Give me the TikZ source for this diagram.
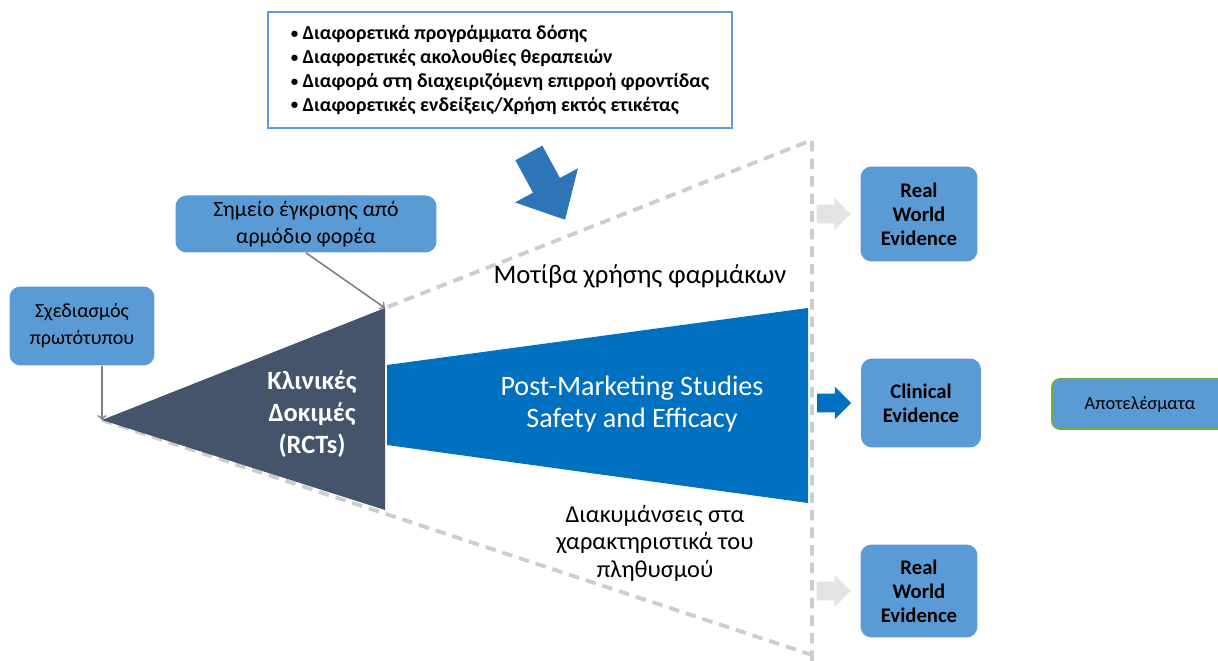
\documentclass[tikz,border=0pt]{standalone}
\usepackage{fontspec}
\setmainfont{Carlito}
\usetikzlibrary{shapes.arrows,positioning}
\definecolor{boxblue}{HTML}{5B9BD5}
\definecolor{pmsblue}{HTML}{0070C0}
\definecolor{slate}{HTML}{44546A}
\definecolor{arrowblue}{HTML}{2E75B6}
\definecolor{dashgray}{HTML}{CDCDCD}
\definecolor{palegray}{HTML}{E4E4E4}
\definecolor{leafgreen}{HTML}{70AD47}
\newcommand{\smallbullet}{\raisebox{0.15ex}{\scalebox{0.75}{\textbullet}}\ }

\begin{document}
\begin{tikzpicture}[x=0.02cm, y=-0.02cm,
		bluebox/.style={fill=boxblue, rounded corners=0.22cm, align=center, inner sep=0pt},
		evidbox/.style={bluebox, font=\bfseries\fontsize{11.8}{13.6}\selectfont},
		blockarrow/.style={single arrow, minimum height=0.68cm, minimum width=0pt, inner xsep=0pt, inner ysep=0.18cm, single arrow head extend=0.14cm},
		pointer/.style={->, gray, line width=0.9pt}]
		\useasboundingbox (0,0) rectangle (1218,661);
		% dashed frame
		\coordinate (tritip) at (102,420);
		\coordinate (tritop) at (385,308);
		\draw[dashgray, line width=2.2pt, dash pattern=on 6pt off 4pt] (tritip) -- (812,655) (812,661) -- (812,140) -- (tritop);
		% trial triangle
		\fill[slate] (tritip) -- (tritop) -- (385,510) -- cycle;
		\node[text=white, align=center, font=\bfseries\fontsize{15}{18.2}\selectfont] (rcttext) at (312,414) {Κλινικές\\Δοκιμές\\(RCTs)};
		% post-marketing wedge
		\fill[pmsblue] (387,365) -- (808,308) -- (808,503) -- (387,445) -- cycle;
		\node[text=white, align=center, font=\fontsize{16}{18.2}\selectfont] (pmstext) at (632,404) {Post-Marketing Studies\\Safety and Efficacy};
		% labels around the wedge
		\node[font=\fontsize{15.2}{17}\selectfont] (patterns) at (640,276) {Μοτίβα χρήσης φαρμάκων};
		\node[align=center, font=\fontsize{13.9}{15.6}\selectfont] (variations) at (655,543) {Διακυμάνσεις στα\\χαρακτηριστικά του\\πληθυσμού};
		% factors box
		\node[draw=boxblue, line width=1.6pt, fill=white, minimum width=9.28cm, minimum height=2.32cm, align=left, font=\bfseries\fontsize{11.3}{13.6}\selectfont] (factors) at (500,70) {%
			\smallbullet Διαφορετικά προγράμματα δόσης\\
			\smallbullet Διαφορετικές ακολουθίες θεραπειών\\
			\smallbullet Διαφορά στη διαχειριζόμενη επιρροή φροντίδας\\
			\smallbullet Διαφορετικές ενδείξεις/Χρήση εκτός ετικέτας};
		\node[single arrow, fill=arrowblue, minimum height=1.52cm, minimum width=0pt, inner xsep=0pt, inner ysep=0.3cm, single arrow head extend=0.41cm, single arrow tip angle=85, rotate=-61.5] (bigarrow) at (543,179) {};
		% approval and design
		\node[bluebox, minimum width=5.22cm, minimum height=1.14cm, font=\fontsize{12.4}{15.3}\selectfont] (approval) at (306,224) {Σημείο έγκρισης από\\αρμόδιο φορέα};
		\node[bluebox, minimum width=2.9cm, minimum height=1.58cm, font=\fontsize{11.4}{15.3}\selectfont] (design) at (82,326) {Σχεδιασμός\\πρωτότυπου};
		\draw[pointer] (approval.south) -- (tritop);
		\draw[pointer] (design.south -| tritip) -- (tritip);
		% evidence boxes
		\node[evidbox, minimum width=2.34cm, minimum height=1.9cm] (rwetop) at (919,214) {Real\\World\\Evidence};
		\node[evidbox, minimum width=2.4cm, minimum height=1.78cm] (clinical) at (921,403) {Clinical\\Evidence};
		\node[evidbox, minimum width=2.34cm, minimum height=1.86cm] (rwebottom) at (919,591) {Real\\World\\Evidence};
		\node[blockarrow, fill=palegray, left=0.18cm of rwetop] (rwetoparrow) {};
		\node[blockarrow, fill=pmsblue, left=0.18cm of clinical] (clinicalarrow) {};
		\node[blockarrow, fill=palegray, left=0.18cm of rwebottom] (rwebottomarrow) {};
		% outcomes
		\node[bluebox, draw=leafgreen, line width=1pt, rounded corners=0.16cm, minimum width=3.52cm, minimum height=1cm, font=\fontsize{10.5}{13}\selectfont] (outcomes) at (1140,404) {Αποτελέσματα};
\end{tikzpicture}
\end{document}
